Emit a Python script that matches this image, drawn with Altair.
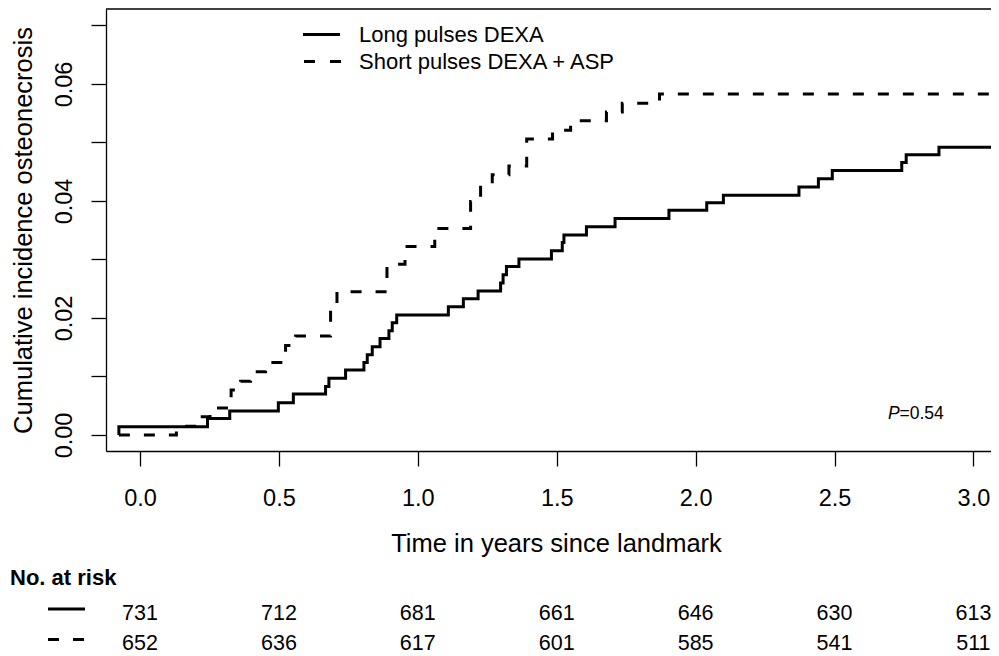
import altair as alt
import pandas as pd

# ---------------- data ----------------
group_names = ["Long pulses DEXA", "Short pulses DEXA + ASP"]

solid_t = [-0.076, -0.076, 0.243, 0.323, 0.498, 0.552, 0.668, 0.680, 0.740, 0.806,
           0.818, 0.836, 0.864, 0.896, 0.908, 0.924, 1.110, 1.164, 1.217, 1.298,
           1.307, 1.319, 1.364, 1.481, 1.520, 1.526, 1.607, 1.710, 1.904, 2.040,
           2.100, 2.372, 2.442, 2.492, 2.742, 2.758, 2.876, 3.200]
solid_v = [0.0, 0.0014, 0.0028, 0.0041, 0.0055, 0.0070, 0.0083, 0.0097, 0.0111, 0.0124,
           0.0137, 0.0151, 0.0165, 0.0178, 0.0192, 0.0205, 0.0219, 0.0233, 0.0246, 0.0260,
           0.0274, 0.0288, 0.0301, 0.0315, 0.0329, 0.0342, 0.0356, 0.0370, 0.0384, 0.0397,
           0.0410, 0.0424, 0.0438, 0.0452, 0.0466, 0.0479, 0.0492, 0.0492]

dashed_t = [-0.076, 0.131, 0.224, 0.252, 0.328, 0.362, 0.398, 0.452, 0.524, 0.560,
            0.686, 0.709, 0.889, 0.954, 1.061, 1.190, 1.226, 1.268, 1.328, 1.392,
            1.485, 1.550, 1.679, 1.736, 1.870, 3.200]
dashed_v = [0.0, 0.0015, 0.0031, 0.0046, 0.0077, 0.0092, 0.0108, 0.0124, 0.0153, 0.0169,
            0.0215, 0.0245, 0.0292, 0.0322, 0.0353, 0.0399, 0.0429, 0.0445, 0.0460, 0.0506,
            0.0521, 0.0537, 0.0552, 0.0567, 0.0583, 0.0583]

x_ticks = [0.0, 0.5, 1.0, 1.5, 2.0, 2.5, 3.0]
y_ticks = [0.0, 0.01, 0.02, 0.03, 0.04, 0.05, 0.06, 0.07]
risk_long = [731, 712, 681, 661, 646, 630, 613]
risk_short = [652, 636, 617, 601, 585, 541, 511]
risk_title = ["No. at risk"]
p_parts = ["P", "=0.54"]

x_title = "Time in years since landmark"
y_title = "Cumulative incidence osteonecrosis"

# ---------------- layout ----------------
FONT = "Liberation Sans"
W, H = 885, 442
XMIN, XMAX = -0.1224, 3.0633
YMIN, YMAX = -0.00274, 0.07282

df_solid = pd.DataFrame({"t": solid_t, "v": solid_v, "i": list(range(len(solid_t)))})
df_dashed = pd.DataFrame({"t": dashed_t, "v": dashed_v, "i": list(range(len(dashed_t)))})
df_risk1 = pd.DataFrame({"t": x_ticks, "n": risk_long})
df_risk2 = pd.DataFrame({"t": x_ticks, "n": risk_short})
one = pd.DataFrame({"k": [0]})

x_scale = alt.Scale(domain=[XMIN, XMAX], nice=False, zero=False)
y_scale = alt.Scale(domain=[YMIN, YMAX], nice=False, zero=False)

x_axis = alt.Axis(
    values=x_ticks, format=".1f", grid=False,
    tickSize=15, tickWidth=1.3, tickColor="black",
    domainColor="black", domainWidth=1.3,
    labelFont=FONT, labelFontSize=23.5, labelColor="black",
    labelBaseline="alphabetic", labelPadding=39, labelFlush=False, labelOverlap=False,
    title=x_title, titleFont=FONT, titleFontSize=25.5, titleFontWeight="normal",
    titleColor="black", titleX=450, titleY=100, titleAlign="center",
    titleBaseline="alphabetic",
)
y_axis = alt.Axis(
    values=y_ticks, grid=False,
    labelExpr="round(datum.value*100) % 2 == 0 ? format(datum.value, '.2f') : ''",
    tickSize=15, tickWidth=1.3, tickColor="black",
    domainColor="black", domainWidth=1.3,
    labelFont=FONT, labelFontSize=23.5, labelColor="black",
    labelAngle=270, labelAlign="center", labelBaseline="alphabetic",
    labelPadding=20, labelFlush=False, labelOverlap=False,
    title=y_title, titleFont=FONT, titleFontSize=25.5, titleFontWeight="normal",
    titleColor="black", titleAngle=270, titleX=-74.5, titleY=221,
    titleAlign="center", titleBaseline="alphabetic",
)

solid = alt.Chart(df_solid).mark_line(
    interpolate="step-after", color="black", strokeWidth=3, clip=True, strokeCap="butt"
).encode(
    x=alt.X("t:Q", scale=x_scale, axis=x_axis),
    y=alt.Y("v:Q", scale=y_scale, axis=y_axis),
    order="i:Q",
)
dashed = alt.Chart(df_dashed).mark_line(
    interpolate="step-after", color="black", strokeWidth=3, clip=True,
    strokeDash=[11, 14], strokeCap="butt"
).encode(
    x=alt.X("t:Q"),
    y=alt.Y("v:Q"),
    order="i:Q",
)

top_border = alt.Chart(one).mark_rule(color="black", strokeWidth=1.3).encode(
    x=alt.value(0), x2=alt.value(W), y=alt.value(0)
)

# legend (top)
leg_solid = alt.Chart(one).mark_rule(color="black", strokeWidth=3).encode(
    x=alt.value(197), x2=alt.value(234), y=alt.value(25.5)
)
leg_dash = alt.Chart(one).mark_rule(color="black", strokeWidth=3, strokeDash=[11, 15]).encode(
    x=alt.value(198), x2=alt.value(235), y=alt.value(52.5)
)
leg_text1 = alt.Chart(pd.DataFrame({"label": [group_names[0]]})).mark_text(
    align="left", baseline="middle", font=FONT, fontSize=22, color="black"
).encode(x=alt.value(253), y=alt.value(25.5), text="label:N")
leg_text2 = alt.Chart(pd.DataFrame({"label": [group_names[1]]})).mark_text(
    align="left", baseline="middle", font=FONT, fontSize=22, color="black"
).encode(x=alt.value(253), y=alt.value(52.5), text="label:N")

# p-value
p_italic = alt.Chart(pd.DataFrame({"s": [p_parts[0]]})).mark_text(
    align="left", baseline="alphabetic", font=FONT, fontSize=17.5,
    fontStyle="italic", color="black"
).encode(x=alt.value(782), y=alt.value(410.3), text="s:N")
p_rest = alt.Chart(pd.DataFrame({"s": [p_parts[1]]})).mark_text(
    align="left", baseline="alphabetic", font=FONT, fontSize=17.5, color="black"
).encode(x=alt.value(793.5), y=alt.value(410.3), text="s:N")

# number at risk table
risk_head = alt.Chart(pd.DataFrame({"s": risk_title})).mark_text(
    align="left", baseline="alphabetic", font=FONT, fontSize=22,
    fontWeight="bold", color="black"
).encode(x=alt.value(-96), y=alt.value(575.5), text="s:N")
risk_row1 = alt.Chart(df_risk1).mark_text(
    align="center", baseline="alphabetic", font=FONT, fontSize=21.5, color="black"
).encode(x=alt.X("t:Q"), y=alt.value(610.5), text="n:Q")
risk_row2 = alt.Chart(df_risk2).mark_text(
    align="center", baseline="alphabetic", font=FONT, fontSize=21.5, color="black"
).encode(x=alt.X("t:Q"), y=alt.value(641), text="n:Q")
risk_line1 = alt.Chart(one).mark_rule(color="black", strokeWidth=3).encode(
    x=alt.value(-58), x2=alt.value(-21), y=alt.value(600)
)
risk_line2 = alt.Chart(one).mark_rule(color="black", strokeWidth=3, strokeDash=[11, 14]).encode(
    x=alt.value(-58), x2=alt.value(-22), y=alt.value(630.5)
)

chart = alt.layer(
    solid, dashed, top_border,
    leg_solid, leg_dash, leg_text1, leg_text2,
    p_italic, p_rest,
    risk_head, risk_row1, risk_row2, risk_line1, risk_line2,
).properties(
    width=W, height=H,
    autosize=alt.AutoSizeParams(type="none"),
    padding={"left": 98, "top": 1, "right": 0, "bottom": 205},
    background="white",
).configure_view(strokeWidth=0)

chart.save("out.html", embed_options={"renderer": "svg", "actions": False})
